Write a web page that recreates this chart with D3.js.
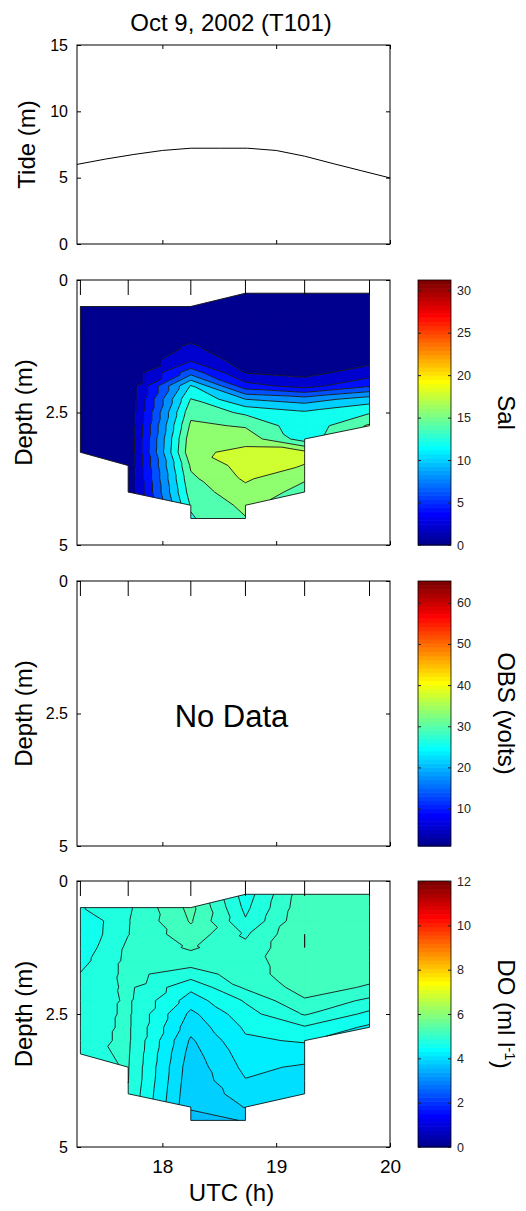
<!DOCTYPE html>
<html><head><meta charset="utf-8">
<script src="https://cdn.jsdelivr.net/npm/d3@7"></script>
<style>
body{margin:0;background:#fff}
svg{display:block}
text{font-family:"Liberation Sans",Arial,Helvetica,sans-serif}
</style>
</head><body>
<svg id="chart" width="526" height="1211"></svg>
<script>
// ---------------- DATA ----------------
const titleText = "Oct 9, 2002 (T101)";
const tideTimes  = [17.25, 17.5, 17.75, 18.0, 18.25, 18.5, 18.75, 19.0, 19.25, 19.5, 19.75, 20.0];
const tideValues = [6.0, 6.4, 6.75, 7.05, 7.22, 7.22, 7.22, 7.05, 6.62, 6.06, 5.52, 4.98];

const castTimes = [17.28, 17.70, 18.25, 18.73, 19.25, 19.82];
const depths = [0.25, 0.5, 0.75, 1.0, 1.25, 1.5, 1.75, 2.0, 2.25, 2.5, 2.75, 3.0, 3.25, 3.5, 3.75, 4.0, 4.25, 4.5];

// salinity per cast (null = no data)
const sal1 = [null, 0.1, 0.1, 0.1, 0.1, 0.1, 0.1, 0.2, 0.2, 0.2, 0.2, 0.2, 0.2, null, null, null, null, null];
const sal2 = [null, 0.3, 0.3, 0.3, 0.3, 0.3, 0.3, 0.3, 0.3, 0.3, 0.3, 0.3, 0.3, 0.3, 0.3, 0.3, null, null];
const sal3 = [null, 0.3, 0.5, 0.9, 2.3, 3.5, 7.2, 12.2, 14.1, 15.4, 16.4, 17.2, 17.5, 16.3, 15.6, 15.0, 14.2, 13.8];
const sal4 = [0.2, 0.2, 0.2, 0.3, 0.5, 1.0, 1.95, 4.8, 10.0, 13.6, 15.8, 17.2, 18.6, 18.8, 18.3, 17.3, 16.5, 15.9];
const sal5 = [0.2, 0.2, 0.2, 0.3, 0.5, 0.8, 1.4, 3.2, 9.0, 12.3, 12.6, 13.0, 18.5, 17.95, 16.2, 15.3, null, null];
const sal6 = [0.2, 0.2, 0.3, 0.4, 0.7, 1.3, 2.9, 5.8, 11.0, 13.8, 16.3, null, null, null, null, null, null, null];
const salLevels = [0, 2, 4, 6, 8, 10, 12, 14, 16, 18];

// dissolved oxygen per cast (ml/l)
const do1 = [null, 4.68, 4.52, 4.53, 4.57, 4.63, 4.71, 4.74, 4.76, 4.80, 4.82, 4.84, 4.86, null, null, null, null, null];
const do2 = [null, 4.87, 4.89, 4.895, 4.94, 4.95, 4.95, 4.94, 4.93, 4.93, 4.93, 4.93, 4.92, 4.91, 4.905, 4.88, null, null];
const do3 = [null, 5.36, 5.32, 5.23, 5.13, 5.00, 4.80, 4.55, 4.40, 4.25, 4.17, 4.07, 4.02, 3.98, 3.96, 3.94, 3.92, 3.83];
const do4 = [4.60, 4.65, 4.72, 4.87, 4.95, 5.00, 5.00, 4.93, 4.72, 4.62, 4.53, 4.47, 4.40, 4.35, 4.29, 4.20, 4.11, 3.91];
const do5 = [5.23, 5.25, 5.27, 5.30, 5.30, 5.27, 5.24, 5.18, 5.08, 4.92, 4.68, 4.52, 4.40, 4.27, 4.20, 4.11, null, null];
const do6 = [5.22, 5.23, 5.24, 5.24, 5.23, 5.21, 5.16, 5.08, 4.85, 4.65, 4.46, null, null, null, null, null, null, null];
const doLevels = [3.7, 3.9, 4.1, 4.3, 4.5, 4.7, 4.9, 5.1, 5.3];

const tideTicks = [0, 5, 10, 15];
const depthTicks = [0, 2.5, 5];
const timeTicks = [18, 19, 20];
const salBarTicks = [0, 5, 10, 15, 20, 25, 30];
const obsBarTicks = [10, 20, 30, 40, 50, 60];
const doBarTicks = [0, 2, 4, 6, 8, 10, 12];
const salRange = [0, 31.2];
const obsRange = [0.9, 65.3];
const doRange = [0, 12];

// ---------------- LAYOUT ----------------
const svg = d3.select("#chart");
svg.append("rect").attr("width",526).attr("height",1211).attr("fill","#fff");
const X0 = 77, X1 = 390, CB0 = 418, CB1 = 451;
const x = d3.scaleLinear().domain([17.25, 20]).range([X0, X1]);
const P = {
  tide: [45, 244], sal: [280, 545], obs: [581, 846], dox: [881, 1147]
};

// MATLAB jet(64)
function jet64() {
  const m = 64, n = 16, u = [];
  for (let k = 1; k <= n; k++) u.push(k / n);
  for (let k = 1; k < n; k++) u.push(1);
  for (let k = n; k >= 1; k--) u.push(k / n);
  const J = Array.from({length: m}, () => [0, 0, 0]);
  for (let k = 1; k <= u.length; k++) {
    const gi = 8 + k, ri = gi + n, bi = gi - n;
    if (ri >= 1 && ri <= m) J[ri - 1][0] = u[k - 1];
    if (gi >= 1 && gi <= m) J[gi - 1][1] = u[k - 1];
    if (bi >= 1 && bi <= m) J[bi - 1][2] = u[k - 1];
  }
  return J;
}
const JET = jet64();
function jetIdx(k) { const c = JET[k]; return d3.rgb(Math.round(c[0]*255), Math.round(c[1]*255), Math.round(c[2]*255)).formatHex(); }
function jetColor(v, range) {
  let k = Math.floor((v - range[0]) / (range[1] - range[0]) * 64);
  k = Math.max(0, Math.min(63, k));
  return jetIdx(k);
}

function clip(poly, f) {
  const out = [];
  for (let k = 0; k < poly.length; k++) {
    const a = poly[k], b = poly[(k + 1) % poly.length];
    const fa = f(a), fb = f(b);
    if (fa >= 0) out.push(a);
    if ((fa >= 0) !== (fb >= 0)) {
      const s = fa / (fa - fb);
      out.push({t: a.t + s*(b.t - a.t), d: a.d + s*(b.d - a.d), v: a.v + s*(b.v - a.v)});
    }
  }
  return out;
}

function drawField(y, casts, levels, range) {
  const g = svg.append("g");
  const nodes = casts.map((col, i) => col.map((v, j) => v == null ? null : {t: castTimes[i], d: depths[j], v: v, id: i*100 + j}));
  const tris = [];
  for (let i = 0; i < casts.length - 1; i++) {
    for (let j = 0; j < depths.length - 1; j++) {
      const q = [nodes[i][j], nodes[i+1][j], nodes[i+1][j+1], nodes[i][j+1]];
      const ok = q.filter(Boolean);
      if (ok.length === 4) {
        if (Math.abs(q[0].v - q[2].v) <= Math.abs(q[1].v - q[3].v)) tris.push([q[0], q[1], q[2]], [q[0], q[2], q[3]]);
        else tris.push([q[0], q[1], q[3]], [q[1], q[2], q[3]]);
      }
      else if (ok.length === 3) tris.push(ok);
    }
  }
  const bandPaths = levels.map(() => d3.path());
  const linePath = d3.path();
  tris.forEach(tri => {
    levels.forEach((L, k) => {
      let poly = tri;
      if (k > 0) poly = clip(poly, p => p.v - L);
      if (k < levels.length - 1) { const H = levels[k+1]; poly = clip(poly, p => H - p.v); }
      if (poly.length >= 3) {
        const p = bandPaths[k];
        poly.forEach((pt, n) => n ? p.lineTo(x(pt.t), y(pt.d)) : p.moveTo(x(pt.t), y(pt.d)));
        p.closePath();
      }
      const pts = [];
      for (let e = 0; e < 3; e++) {
        const a = tri[e], b = tri[(e+1)%3];
        if (a.v === L) pts.push(a);
        if ((a.v - L) * (b.v - L) < 0) {
          const s = (L - a.v) / (b.v - a.v);
          pts.push({t: a.t + s*(b.t - a.t), d: a.d + s*(b.d - a.d)});
        }
      }
      if (pts.length === 2) {
        linePath.moveTo(x(pts[0].t), y(pts[0].d));
        linePath.lineTo(x(pts[1].t), y(pts[1].d));
      }
    });
  });
  levels.forEach((L, k) => {
    const d = bandPaths[k].toString();
    if (d) g.append("path").attr("d", d).attr("fill", jetColor(L, range))
      .attr("stroke", jetColor(L, range)).attr("stroke-width", 0.3);
  });
  g.append("path").attr("d", linePath.toString()).attr("fill", "none")
    .attr("stroke", "#151515").attr("stroke-width", 0.9);
  const cnt = new Map();
  tris.forEach(tri => {
    for (let e = 0; e < 3; e++) {
      const a = tri[e], b = tri[(e+1)%3];
      const key = Math.min(a.id, b.id) + "-" + Math.max(a.id, b.id);
      if (!cnt.has(key)) cnt.set(key, {a, b, n: 0});
      cnt.get(key).n++;
    }
  });
  const op = d3.path();
  cnt.forEach(({a, b, n}) => { if (n === 1) { op.moveTo(x(a.t), y(a.d)); op.lineTo(x(b.t), y(b.d)); } });
  g.append("path").attr("d", op.toString()).attr("fill", "none")
    .attr("stroke", "#151515").attr("stroke-width", 0.9);
}

function styleAxis(g, fs) {
  g.attr("font-size", null).attr("font-family", null);
  g.select(".domain").remove();
  g.selectAll(".tick line").attr("stroke", "#000").attr("stroke-width", 1);
  g.selectAll("text").attr("fill", "#000").style("font-size", fs + "px");
}

function drawFrame(y, yTicks, opts) {
  const [top, bottom] = y.range().slice().sort((a,b)=>a-b);
  const gl = svg.append("g").attr("transform", `translate(${X0},0)`)
    .call(d3.axisLeft(y).tickValues(yTicks).tickFormat(d => String(d)).tickSizeInner(-4).tickSizeOuter(0).tickPadding(9));
  styleAxis(gl, 16);
  const gr = svg.append("g").attr("transform", `translate(${X1},0)`)
    .call(d3.axisRight(y).tickValues(yTicks).tickFormat("").tickSizeInner(-4).tickSizeOuter(0));
  styleAxis(gr, 16);
  const gb = svg.append("g").attr("transform", `translate(0,${bottom})`)
    .call(d3.axisBottom(x).tickValues(timeTicks).tickFormat(opts.xLabels ? (d => String(d)) : "").tickSizeInner(-4).tickSizeOuter(0).tickPadding(10));
  styleAxis(gb, 19);
  gb.selectAll("text").attr("y", 26).attr("dy", 0);
  if (opts.topTicks) {
    const gt = svg.append("g").attr("transform", `translate(0,${top})`)
      .call(d3.axisTop(x).tickValues(timeTicks).tickFormat("").tickSizeInner(-4).tickSizeOuter(0));
    styleAxis(gt, 16);
  }
  if (opts.castTicks) {
    svg.append("g").selectAll("line").data(castTimes).join("line")
      .attr("x1", d => x(d)).attr("x2", d => x(d)).attr("y1", top).attr("y2", top + 15)
      .attr("stroke", "#000").attr("stroke-width", 1);
  }
  svg.append("rect").attr("x", X0).attr("y", top).attr("width", X1 - X0).attr("height", bottom - top)
    .attr("fill", "none").attr("stroke", "#000").attr("stroke-width", 1);
}

function yLabel(text, cy, bx) {
  svg.append("text").attr("transform", `translate(${bx},${cy}) rotate(-90)`)
    .attr("text-anchor", "middle").style("font-size", "24px").text(text);
}

function colorbar(range, ticks, top, bottom, label) {
  const cy = d3.scaleLinear().domain(range).range([bottom, top]);
  const g = svg.append("g");
  const step = (range[1] - range[0]) / 64;
  g.selectAll("rect.s").data(d3.range(64)).join("rect")
    .attr("x", CB0).attr("width", CB1 - CB0)
    .attr("y", k => cy(range[0] + (k+1)*step))
    .attr("height", k => cy(range[0] + k*step) - cy(range[0] + (k+1)*step) + 0.6)
    .attr("fill", k => jetIdx(k));
  g.append("rect").attr("x", CB0).attr("y", top).attr("width", CB1 - CB0).attr("height", bottom - top)
    .attr("fill", "none").attr("stroke", "#000").attr("stroke-width", 0.8);
  const gl = g.append("g").attr("transform", `translate(${CB0},0)`)
    .call(d3.axisLeft(cy).tickValues(ticks).tickFormat("").tickSizeInner(-3).tickSizeOuter(0));
  gl.select(".domain").remove(); gl.selectAll("line").attr("stroke", "#222");
  const gr = g.append("g").attr("transform", `translate(${CB1},0)`)
    .call(d3.axisRight(cy).tickValues(ticks).tickFormat(d => String(d)).tickSizeInner(-3).tickSizeOuter(0).tickPadding(6));
  gr.attr("font-size", null).attr("font-family", null);
  gr.select(".domain").remove(); gr.selectAll("line").attr("stroke", "#222");
  gr.selectAll("text").attr("fill", "#222").style("font-size", "12.5px");
  const t = svg.append("text").attr("transform", `translate(498,${(top+bottom)/2}) rotate(90)`)
    .attr("text-anchor", "middle").style("font-size", "24px");
  label(t);
}

// ---------------- TITLE ----------------
svg.append("text").attr("x", 231).attr("y", 31).attr("text-anchor", "middle")
  .style("font-size", "24px").text(titleText);

// ---------------- TIDE ----------------
const yTide = d3.scaleLinear().domain([0, 15]).range([P.tide[1], P.tide[0]]);
svg.append("path").datum(tideTimes.map((t, i) => [t, tideValues[i]]))
  .attr("d", d3.line().x(d => x(d[0])).y(d => yTide(d[1])))
  .attr("fill", "none").attr("stroke", "#000").attr("stroke-width", 1);
drawFrame(yTide, tideTicks, {topTicks: true, castTicks: false, xLabels: false});
yLabel("Tide (m)", (P.tide[0] + P.tide[1]) / 2, 35);

// ---------------- SALINITY ----------------
const ySal = d3.scaleLinear().domain([0, 5]).range(P.sal);
drawField(ySal, [sal1, sal2, sal3, sal4, sal5, sal6], salLevels, salRange);
drawFrame(ySal, depthTicks, {castTicks: true, xLabels: false});
yLabel("Depth (m)", (P.sal[0] + P.sal[1]) / 2, 32);
colorbar(salRange, salBarTicks, P.sal[0], P.sal[1], t => t.text("Sal"));

// ---------------- OBS ----------------
const yObs = d3.scaleLinear().domain([0, 5]).range(P.obs);
drawFrame(yObs, depthTicks, {castTicks: true, xLabels: false});
yLabel("Depth (m)", (P.obs[0] + P.obs[1]) / 2, 32);
svg.append("text").attr("x", 231.5).attr("y", 727).attr("text-anchor", "middle")
  .style("font-size", "31px").text("No Data");
colorbar(obsRange, obsBarTicks, P.obs[0], P.obs[1], t => t.text("OBS (volts)"));

// ---------------- DO ----------------
const yDo = d3.scaleLinear().domain([0, 5]).range(P.dox);
drawField(yDo, [do1, do2, do3, do4, do5, do6], doLevels, doRange);
drawFrame(yDo, depthTicks, {castTicks: true, xLabels: true});
yLabel("Depth (m)", (P.dox[0] + P.dox[1]) / 2, 32);
colorbar(doRange, doBarTicks, P.dox[0], P.dox[1], t => {
  t.append("tspan").text("DO (ml l");
  t.append("tspan").attr("dy", "-0.45em").style("font-size", "15px").text("-1");
  t.append("tspan").attr("dy", "0.45em").text(")");
});

// ---------------- X LABEL ----------------
svg.append("text").attr("x", 231.5).attr("y", 1201).attr("text-anchor", "middle")
  .style("font-size", "24px").text("UTC (h)");
</script>
</body></html>
